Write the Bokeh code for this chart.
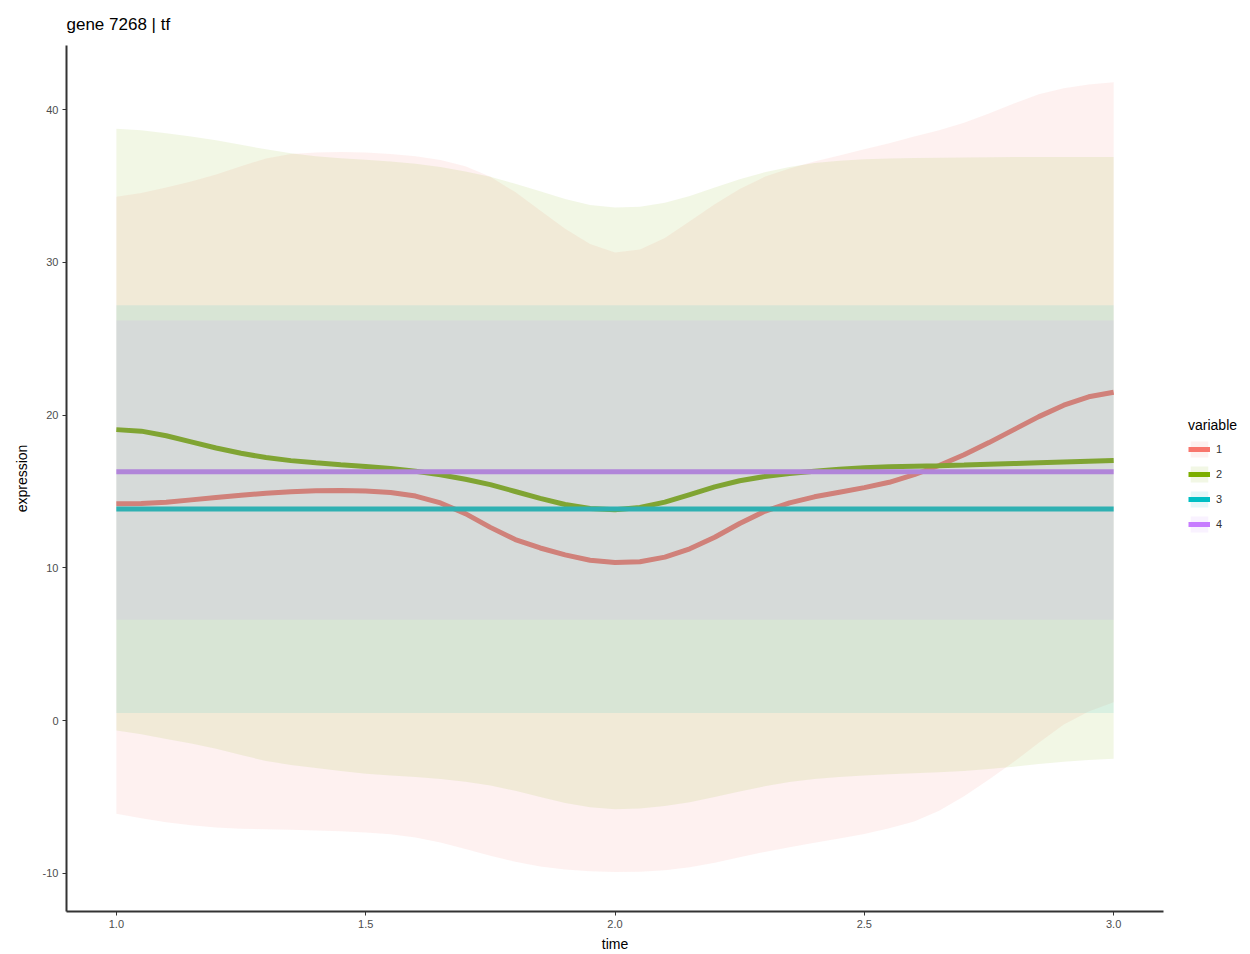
from bokeh.plotting import figure
from bokeh.models import Legend, LegendItem, FixedTicker, CustomJSTickFormatter
from bokeh.embed import file_html
from bokeh.resources import INLINE

# time grid for the smoothed curves
time = [1.00, 1.05, 1.10, 1.15, 1.20, 1.25, 1.30, 1.35, 1.40, 1.45,
        1.50, 1.55, 1.60, 1.65, 1.70, 1.75, 1.80, 1.85, 1.90, 1.95,
        2.00, 2.05, 2.10, 2.15, 2.20, 2.25, 2.30, 2.35, 2.40, 2.45,
        2.50, 2.55, 2.60, 2.65, 2.70, 2.75, 2.80, 2.85, 2.90, 2.95, 3.00]
# start and end of the constant series
time_ends = [1.0, 3.0]

# smoothed expression per variable
expr_1 = [14.2, 14.22, 14.3, 14.45, 14.6, 14.75, 14.88, 14.98, 15.04, 15.06,
          15.03, 14.93, 14.7, 14.25, 13.55, 12.65, 11.85, 11.3, 10.85, 10.5,
          10.35, 10.4, 10.7, 11.25, 12.0, 12.9, 13.7, 14.25, 14.65, 14.95,
          15.25, 15.6, 16.1, 16.7, 17.4, 18.2, 19.05, 19.9, 20.65, 21.2, 21.5]
expr_2 = [19.05, 18.95, 18.65, 18.25, 17.85, 17.5, 17.22, 17.02, 16.88, 16.75,
          16.63, 16.5, 16.33, 16.1, 15.8, 15.45, 15.0, 14.55, 14.15, 13.88,
          13.8, 13.95, 14.3, 14.8, 15.3, 15.7, 15.98, 16.18, 16.33, 16.46,
          16.55, 16.62, 16.66, 16.69, 16.73, 16.78, 16.83, 16.88, 16.93, 16.98, 17.03]
expr_3 = [13.85, 13.85]
expr_4 = [16.3, 16.3]

# ribbon bounds per variable
upper_1 = [34.3, 34.55, 34.9, 35.3, 35.75, 36.3, 36.8, 37.1, 37.2, 37.22,
           37.2, 37.1, 36.95, 36.7, 36.3, 35.6, 34.6, 33.4, 32.2, 31.2,
           30.65, 30.85, 31.6, 32.7, 33.8, 34.8, 35.6, 36.15, 36.6, 37.0,
           37.4, 37.8, 38.25, 38.65, 39.15, 39.75, 40.4, 41.0, 41.4, 41.65, 41.8]
lower_1 = [-6.1, -6.4, -6.65, -6.85, -7.0, -7.08, -7.12, -7.15, -7.2, -7.25,
           -7.32, -7.45, -7.65, -7.98, -8.4, -8.85, -9.25, -9.55, -9.75, -9.87,
           -9.92, -9.9, -9.8, -9.6, -9.3, -8.95, -8.6, -8.3, -8.0, -7.72,
           -7.42, -7.05, -6.6, -5.9, -4.95, -3.85, -2.7, -1.45, -0.25, 0.6, 1.2]
upper_2 = [38.75, 38.65, 38.45, 38.25, 38.0, 37.7, 37.4, 37.15, 36.95, 36.82,
           36.72, 36.6, 36.45, 36.25, 35.95, 35.6, 35.15, 34.65, 34.15, 33.75,
           33.6, 33.65, 33.9, 34.35, 34.9, 35.45, 35.9, 36.25, 36.5, 36.65,
           36.75, 36.8, 36.83, 36.85, 36.87, 36.88, 36.9, 36.9, 36.9, 36.9, 36.9]
lower_2 = [-0.65, -0.9, -1.2, -1.5, -1.85, -2.25, -2.65, -2.9, -3.1, -3.3,
           -3.48, -3.6, -3.7, -3.83, -4.0, -4.25, -4.6, -5.0, -5.4, -5.68,
           -5.8, -5.75, -5.6, -5.35, -5.0, -4.65, -4.3, -4.02, -3.82, -3.7,
           -3.6, -3.52, -3.45, -3.38, -3.3, -3.17, -3.02, -2.85, -2.7, -2.58, -2.5]
upper_3 = [27.2, 27.2]
lower_3 = [0.5, 0.5]
upper_4 = [26.2, 26.2]
lower_4 = [6.6, 6.6]

variables = ["1", "2", "3", "4"]
colors = ["#F8766D", "#7CAE00", "#00BFC4", "#C77CFF"]
x_ticks = [1.0, 1.5, 2.0, 2.5, 3.0]
y_ticks = [-10, 0, 10, 20, 30, 40]

curves = [(time, expr_1, lower_1, upper_1),
          (time, expr_2, lower_2, upper_2),
          (time_ends, expr_3, lower_3, upper_3),
          (time_ends, expr_4, lower_4, upper_4)]

FONT = "Liberation Sans"

p = figure(frame_width=1097, frame_height=866, x_range=(0.9, 3.1), y_range=(-12.5, 44.2),
           output_backend="svg", toolbar_location=None,
           min_border_left=66, min_border_right=87, min_border_top=45,
           min_border_bottom=43, title="gene 7268 | tf")

p.background_fill_color = "white"
p.border_fill_color = "white"
p.outline_line_color = None
p.xgrid.visible = False
p.ygrid.visible = False

p.title.text_font = FONT
p.title.text_font_size = "17px"
p.title.text_font_style = "normal"
p.title.text_color = "black"
p.title.align = "left"
p.title.standoff = 24

for ax, ticks in ((p.xaxis, x_ticks), (p.yaxis, y_ticks)):
    ax.ticker = FixedTicker(ticks=ticks)
    ax.minor_tick_line_color = None
    ax.major_tick_in = 0
    ax.major_tick_out = 4
    ax.major_tick_line_color = "#333333"
    ax.major_tick_line_width = 1
    ax.axis_line_color = "#333333"
    ax.axis_line_width = 2
    ax.major_label_text_font = FONT
    ax.major_label_text_font_size = "11px"
    ax.major_label_text_color = "#4D4D4D"
    ax.major_label_standoff = 4
    ax.axis_label_text_font = FONT
    ax.axis_label_text_font_size = "14px"
    ax.axis_label_text_font_style = "normal"
    ax.axis_label_text_color = "black"

p.xaxis.axis_label_standoff = 5
p.yaxis.axis_label_standoff = 10
p.xaxis.axis_label = "time"
p.yaxis.axis_label = "expression"
p.xaxis.formatter = CustomJSTickFormatter(code="return tick.toFixed(1);")
p.yaxis.formatter = CustomJSTickFormatter(code="return tick.toString();")

# lines first, translucent ribbons drawn over them
lines = []
for (xs, ys, lo, hi), c in zip(curves, colors):
    lines.append(p.line(xs, ys, line_color=c, line_width=5))
bands = []
for (xs, ys, lo, hi), c in zip(curves, colors):
    bands.append(p.varea(x=xs, y1=lo, y2=hi, fill_color=c, fill_alpha=0.1))

items = [LegendItem(label=v, renderers=[b, l]) for v, b, l in zip(variables, bands, lines)]
# legend in the right-hand panel, offset a little away from the plot area
legend = Legend(items=items, title="variable", location=(25, 377))
legend.title_text_font = FONT
legend.title_text_font_size = "14px"
legend.title_text_font_style = "normal"
legend.title_text_color = "black"
legend.title_standoff = 6
legend.label_text_font = FONT
legend.label_text_font_size = "11px"
legend.label_text_color = "#333333"
legend.glyph_width = 22
legend.glyph_height = 20
legend.spacing = 5
legend.label_standoff = 6
legend.padding = 0
legend.margin = 0
legend.border_line_color = None
legend.background_fill_alpha = 0
legend.label_width = 10
p.add_layout(legend, "right")

open("out.html", "w").write(file_html(p, INLINE))
